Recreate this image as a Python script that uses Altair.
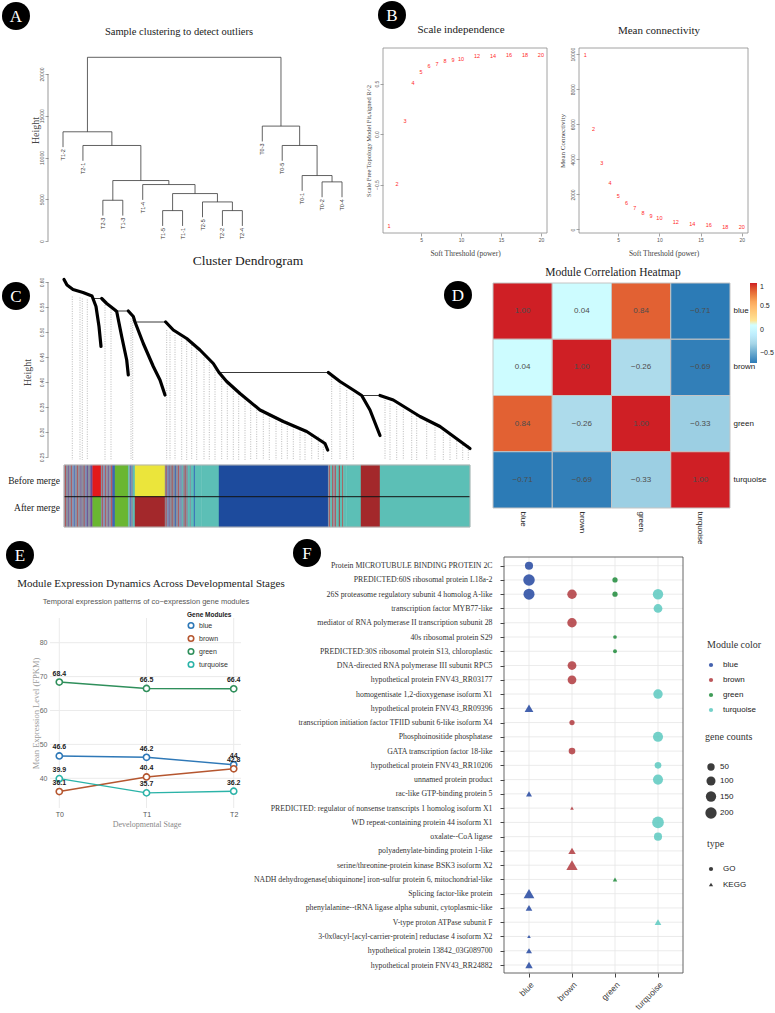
import altair as alt
import pandas as pd

SERIF = "Liberation Serif"
SANS = "Liberation Sans"
W, H = 775, 1013

# ---------------- Panel A : sample clustering (hclust merge table) ----------------
merge_left = ["T2-2", "T1-5", "T2-5", "T2-3", 1, "T1-4", "T0-2", 3, "T0-1", "T2-1", "T0-5", "T1-2", "T0-3", 11]
merge_right = ["T2-4", "T1-1", 0, "T1-3", 2, 4, "T0-4", 5, 6, 7, 8, 9, 10, 12]
merge_height = [3640, 3640, 4680, 4880, 5680, 6760, 7080, 7240, 7840, 11440, 11440, 13080, 13760, 22000]
height_ticks = [0, 5000, 10000, 15000, 20000]

# ---------------- Panel B : soft threshold ----------------
powers = [1, 2, 3, 4, 5, 6, 7, 8, 9, 10, 12, 14, 16, 18, 20]
fit_r2 = [-0.91, -0.49, 0.13, 0.51, 0.62, 0.67, 0.69, 0.72, 0.73, 0.745, 0.77, 0.77, 0.78, 0.78, 0.785]
mean_conn = [9960, 5740, 3770, 2650, 1930, 1520, 1210, 950, 780, 640, 450, 320, 230, 170, 130]

# ---------------- Panel C : gene dendrogram ----------------
branch_x = [
    [0, 3, 9, 19, 28, 32, 35, 37],
    [37.7, 42.7, 51, 52.7, 57.7, 62.7, 64.3],
    [64.3, 69.3, 71, 79.3, 89.3, 96, 101],
    [101.7, 109.3, 122.7, 136, 149.3, 155, 162.7, 176, 196, 219.3, 242.7, 261, 263.7],
    [264.3, 276, 289.3, 297.7, 306, 316],
    [316, 329.3, 356, 376, 406],
]
branch_h = [
    [0.605, 0.594, 0.585, 0.579, 0.572, 0.551, 0.511, 0.471],
    [0.567, 0.557, 0.544, 0.541, 0.491, 0.444, 0.414],
    [0.542, 0.531, 0.520, 0.477, 0.431, 0.404, 0.374],
    [0.520, 0.504, 0.487, 0.464, 0.437, 0.419, 0.401, 0.377, 0.344, 0.321, 0.301, 0.277, 0.264],
    [0.419, 0.401, 0.384, 0.373, 0.344, 0.293],
    [0.373, 0.364, 0.331, 0.311, 0.267],
]
join_x0 = [29.3, 52.7, 71, 155, 297.7]
join_x1 = [37.7, 64.3, 101.7, 264.3, 316]
join_h = [0.567, 0.542, 0.520, 0.419, 0.373]
leaf_x = [8.3, 16, 18.3, 23.3, 41, 47, 67, 68.7, 102.7, 106, 111, 117.7, 122.7, 127.7, 132.7, 140,
          145.3, 151, 157.7, 163.3, 169.3, 174.7, 181, 186.7, 192.7, 199.3, 205.3, 212, 217.7, 223.3,
          229.3, 236, 241, 247.7, 254.3, 259.3, 267.7, 276, 282.7, 289.3, 321, 326, 332.7, 339.3,
          347.7, 352.7, 362.7, 371, 379.3, 386, 392.7, 398.7, 404.3]
leaf_top = [0.571, 0.569, 0.567, 0.565, 0.554, 0.545, 0.527, 0.524, 0.504, 0.499, 0.494, 0.487, 0.481,
            0.474, 0.467, 0.454, 0.444, 0.434, 0.411, 0.401, 0.391, 0.381, 0.371, 0.363, 0.354, 0.345,
            0.337, 0.331, 0.325, 0.321, 0.315, 0.309, 0.304, 0.297, 0.291, 0.285, 0.411, 0.397, 0.384,
            0.377, 0.364, 0.357, 0.351, 0.345, 0.337, 0.332, 0.321, 0.314, 0.304, 0.294, 0.287, 0.279,
            0.274]
G, R, P, L, B2, T = "#8C90A0", "#B23A3A", "#6A4C93", "#7F93B5", "#3A66B8", "#5CBFB6"
BL, BR, GR, Y, RD = "#1D4B9D", "#A3282B", "#6AB631", "#EBE53B", "#E31A1C"
cb_x0 = [0, 1.2, 2.0, 4.5, 5.3, 7.5, 8.2, 10.5, 11.3, 13.5, 14.2, 16.8, 17.6, 20, 20.8, 23, 24, 26.5,
         28.7, 37, 38.5, 39.2, 41.5, 42.2, 44.5, 45.3, 47.5, 48.5, 51, 64.3, 65.5, 66.5, 67.5, 69, 71,
         101, 102, 102.8, 105, 105.8, 108, 108.8, 111, 112, 114.5, 115.3, 118, 119, 121, 121.8, 124,
         126, 127, 130, 131, 137.7, 155, 264.3, 265.5, 266.3, 268.5, 269.3, 271.5, 272.3, 275, 276,
         278.5, 279.3, 282.7, 297, 316]
cb_x1 = cb_x0[1:] + [406]
cb_before = [G, R, G, P, G, R, L, B2, G, R, G, P, G, R, L, P, G, P,
             RD, G, R, L, R, G, P, G, R, B2, GR, T, G, B2, G, T, Y,
             G, R, L, P, G, R, G, B2, G, R, L, T, G, R, G, T,
             G, T, B2, T, T, BL, G, R, T, R, G, R, T, R, T,
             R, T, T, BR, T]
cb_after = [G, R, G, P, G, R, L, B2, G, R, G, P, G, R, L, P, G, P,
            GR, G, R, L, R, G, P, G, R, B2, GR, T, G, B2, G, T, BR,
            G, R, L, P, G, R, G, B2, G, R, L, T, G, R, G, T,
            G, T, B2, T, T, BL, G, R, T, R, G, R, T, R, T,
            R, T, T, BR, T]
dend_ticks = [0.25, 0.30, 0.35, 0.40, 0.45, 0.50, 0.55, 0.60]

# ---------------- Panel D : module correlation ----------------
modules = ["blue", "brown", "green", "turquoise"]
corr = [[1.00, 0.04, 0.84, -0.71],
        [0.04, 1.00, -0.26, -0.69],
        [0.84, -0.26, 1.00, -0.33],
        [-0.71, -0.69, -0.33, 1.00]]
heat_palette = ["#2C7BB6", "#ABD9E9", "#FFFFFF", "#FDAE61", "#CF1F25"]

# ---------------- Panel E : expression dynamics ----------------
stages = ["T0", "T1", "T2"]
expr_blue = [46.6, 46.2, 44]
expr_brown = [36.1, 40.4, 42.8]
expr_green = [68.4, 66.5, 66.4]
expr_turquoise = [39.9, 35.7, 36.2]
expr_colors = ["#2E78B7", "#B5562F", "#2F8F5B", "#2BB3A8"]
expr_ticks = [40, 50, 60, 70, 80]

# ---------------- Panel F : enrichment dot plot ----------------
f_protein = [
    "Protein MICROTUBULE BINDING PROTEIN 2C",
    "PREDICTED:60S ribosomal protein L18a-2",
    "26S proteasome regulatory subunit 4 homolog A-like",
    "transcription factor MYB77-like",
    "mediator of RNA polymerase II transcription subunit 28",
    "40s ribosomal protein S29",
    "PREDICTED:30S ribosomal protein S13, chloroplastic",
    "DNA-directed RNA polymerase III subunit RPC5",
    "hypothetical protein FNV43_RR03177",
    "homogentisate 1,2-dioxygenase isoform X1",
    "hypothetical protein FNV43_RR09396",
    "transcription initiation factor TFIID subunit 6-like isoform X4",
    "Phosphoinositide phosphatase",
    "GATA transcription factor 18-like",
    "hypothetical protein FNV43_RR10206",
    "unnamed protein product",
    "rac-like GTP-binding protein 5",
    "PREDICTED: regulator of nonsense transcripts 1 homolog isoform X1",
    "WD repeat-containing protein 44 isoform X1",
    "oxalate--CoA ligase",
    "polyadenylate-binding protein 1-like",
    "serine/threonine-protein kinase BSK3 isoform X2",
    "NADH dehydrogenase[ubiquinone] iron-sulfur protein 6, mitochondrial-like",
    "Splicing factor-like protein",
    "phenylalanine--tRNA ligase alpha subunit, cytoplasmic-like",
    "V-type proton ATPase subunit F",
    "3-0x0acyl-[acyl-carrier-protein] reductase 4 isoform X2",
    "hypothetical protein 13842_03G089700",
    "hypothetical protein FNV43_RR24882",
]
f_row = [1, 2, 2, 3, 3, 3, 3, 4, 5, 6, 7, 8, 9, 10, 11, 12, 13, 14, 15, 16, 17, 18, 19, 20, 21, 22,
         23, 24, 25, 26, 27, 28, 29]
f_module = ["blue", "blue", "green", "blue", "brown", "green", "turquoise", "turquoise", "brown", "green",
            "green", "brown", "brown", "turquoise", "blue", "brown", "turquoise", "brown", "turquoise",
            "turquoise", "blue", "brown", "turquoise", "turquoise", "brown", "brown", "green", "blue",
            "blue", "turquoise", "blue", "blue", "blue"]
f_type = ["GO"] * 14 + ["KEGG"] + ["GO"] * 5 + ["KEGG", "KEGG"] + ["GO", "GO"] + ["KEGG"] * 9
f_count = [70, 210, 13, 185, 114, 13, 153, 90, 114, 1, 2, 90, 90, 114, 90, 13, 140, 35, 35, 140, 23, 1,
           220, 69, 51, 200, 6, 170, 35, 35, 1, 23, 51]
f_colors = ["#2346A0", "#B0393E", "#1F8B3B", "#5CC9C0"]
size_legend_values = [50, 100, 150, 200]

# =====================================================================
one = pd.DataFrame({"k": [0]})


def badge(letter, px, py):
    base = alt.Chart(one)
    dot = base.mark_circle(size=784, color="black", opacity=1).encode(x=alt.value(px), y=alt.value(py))
    txt = base.mark_text(text=letter, font=SERIF, fontSize=17, color="white", align="center",
                         baseline="middle", dy=1).encode(x=alt.value(px), y=alt.value(py))
    return [dot, txt]


def label(text, px, py, size, font=SERIF, color="#222", weight="normal", align="center"):
    return alt.Chart(one).mark_text(text=text, font=font, fontSize=size, color=color, fontWeight=weight,
                                    align=align, baseline="middle").encode(x=alt.value(px), y=alt.value(py))


def frame(x0, x1, y0, y1, color, width):
    return alt.Chart(one).mark_rect(filled=False, stroke=color, strokeWidth=width).encode(
        x=alt.value(x0), x2=alt.value(x1), y=alt.value(y0), y2=alt.value(y1))


def r_axis(orient, pos, values, title, fmt, size_title, tx=None, ty=None, rotate=False):
    """R base-graphics style axis placed at absolute pixel position `pos`."""
    offset = (pos - H) if orient == "bottom" else -pos
    kw = dict(orient=orient, offset=offset, values=values, tickSize=3, tickColor="#666", tickWidth=0.6,
              labelFontSize=5, labelColor="#555", labelFont=SANS, labelPadding=1, domain=False, grid=False,
              format=fmt, title=title, titleFont=SERIF, titleFontSize=size_title, titleFontWeight="normal",
              titleColor="#444", titleBaseline="middle")
    if rotate:
        kw.update(labelAngle=270, labelAlign="center", labelBaseline="bottom")
    if tx is not None:
        kw["titleX"] = tx
    if ty is not None:
        kw["titleY"] = ty
    return alt.Axis(**kw)


def lin(domain, rng):
    return alt.Scale(domain=domain, range=rng, nice=False, zero=False)


# ---------------- A ----------------
def leaves(node):
    if isinstance(node, str):
        return [node]
    return leaves(merge_left[node]) + leaves(merge_right[node])


order = leaves(len(merge_height) - 1)
xpos = {n: i for i, n in enumerate(order)}
hang = 0.1 * (max(merge_height) - min(merge_height))
segs, leaf_rows, node_x = [], [], {}
for k, h in enumerate(merge_height):
    xs = []
    for child in (merge_left[k], merge_right[k]):
        if isinstance(child, str):
            cx, bottom = xpos[child], h - hang
            leaf_rows.append({"name": child, "x": cx, "y": bottom})
        else:
            cx, bottom = node_x[child], merge_height[child]
        segs.append({"x": cx, "x2": cx, "y": bottom, "y2": h})
        xs.append(cx)
    segs.append({"x": xs[0], "x2": xs[1], "y": h, "y2": h})
    node_x[k] = (xs[0] + xs[1]) / 2

xsA = lin([0, len(order) - 1], [63, 342])
ysA = lin([0, 20000], [241, 74])
segA = alt.Chart(pd.DataFrame(segs)).mark_rule(color="#3a3a3a", strokeWidth=0.8).encode(
    x=alt.X("x:Q", scale=xsA, axis=None), x2="x2:Q",
    y=alt.Y("y:Q", scale=ysA, axis=r_axis("left", 48, height_ticks, "Height", "d", 10, -13, 130, True)),
    y2="y2:Q")
axA = alt.Chart(one).mark_rule(color="#555", strokeWidth=0.6).encode(
    x=alt.value(48), y=alt.datum(height_ticks[0]), y2=alt.datum(height_ticks[-1]))
leafA = alt.Chart(pd.DataFrame(leaf_rows)).mark_text(angle=270, align="right", baseline="middle", dx=-2,
                                                     fontSize=5.5, font=SANS, color="#333").encode(
    x=alt.X("x:Q", scale=xsA, axis=None), y=alt.Y("y:Q", scale=ysA), text="name:N")
panelA = alt.layer(segA, axA, leafA)

# ---------------- B ----------------
dfB = pd.DataFrame({"power": powers, "r2": fit_r2, "k": mean_conn, "lab": [str(p) for p in powers]})
B1pts = alt.Chart(dfB).mark_text(color="#FF2A2A", fontSize=5.5, font=SANS).encode(
    x=alt.X("power:Q", scale=lin([0.24, 20.76], [383, 547]),
            axis=r_axis("bottom", 233, [5, 10, 15, 20], "Soft Threshold (power)", "d", 7.5, None, 20)),
    y=alt.Y("r2:Q", scale=lin([-0.98, 0.853], [233, 48]),
            axis=r_axis("left", 383, [-0.5, 0, 0.5], "Scale Free Topology Model Fit,signed R^2", ".1f", 6.5,
                        -15, None, True)),
    text="lab:N")
B2pts = alt.Chart(dfB).mark_text(color="#FF2A2A", fontSize=5.5, font=SANS).encode(
    x=alt.X("power:Q", scale=lin([0.24, 20.76], [579, 748]),
            axis=r_axis("bottom", 233, [5, 10, 15, 20], "Soft Threshold (power)", "d", 7.5, None, 20)),
    y=alt.Y("k:Q", scale=lin([-200, 10350], [233, 48]),
            axis=r_axis("left", 579, [0, 2000, 4000, 6000, 8000, 10000], "Mean Connectivity", "d", 7,
                        -17, None, True)),
    text="lab:N")

# ---------------- C ----------------
xC = lin([0, 406], [64, 470])
yC = lin([0.25, 0.60], [457, 282])
CB_TOP, CB_MID, CB_BOT, LEAF_BASE = 0.234, 0.1706, 0.11, 0.244
dfLeaf = pd.DataFrame({"x": leaf_x, "top": leaf_top})
dots = alt.Chart(dfLeaf).mark_rule(strokeDash=[1, 1.4], color="#8c8c8c", strokeWidth=0.6).encode(
    x=alt.X("x:Q", scale=xC, axis=None),
    y=alt.Y("top:Q", scale=yC, axis=r_axis("left", 48, dend_ticks, "Height", ".2f", 10, -21, 372, True)),
    y2=alt.datum(LEAF_BASE))
dfJoin = pd.DataFrame({"x0": join_x0, "x1": join_x1, "h": join_h})
joins = alt.Chart(dfJoin).mark_rule(color="#222", strokeWidth=0.9).encode(
    x=alt.X("x0:Q", scale=xC, axis=None), x2="x1:Q", y=alt.Y("h:Q", scale=yC))
br_rows = []
for b, (xs_, hs_) in enumerate(zip(branch_x, branch_h)):
    for i, (xv, hv) in enumerate(zip(xs_, hs_)):
        br_rows.append({"b": b, "i": i, "x": xv, "h": hv})
branches = alt.Chart(pd.DataFrame(br_rows)).mark_line(color="black", strokeWidth=3.2, strokeCap="round",
                                                       strokeJoin="round").encode(
    x=alt.X("x:Q", scale=xC, axis=None), y=alt.Y("h:Q", scale=yC), detail="b:N", order="i:Q")
dfCB = pd.DataFrame({"x0": cb_x0, "x1": cb_x1, "before": cb_before, "after": cb_after})
cb1 = alt.Chart(dfCB).mark_rect(strokeWidth=0.4).encode(
    x=alt.X("x0:Q", scale=xC, axis=None), x2="x1:Q", y=alt.datum(CB_TOP), y2=alt.datum(CB_MID),
    fill=alt.Fill("before:N", scale=None), stroke=alt.Stroke("before:N", scale=None))
cb2 = alt.Chart(dfCB).mark_rect(strokeWidth=0.4).encode(
    x=alt.X("x0:Q", scale=xC, axis=None), x2="x1:Q", y=alt.datum(CB_MID), y2=alt.datum(CB_BOT),
    fill=alt.Fill("after:N", scale=None), stroke=alt.Stroke("after:N", scale=None))
cbline = alt.Chart(one).mark_rule(color="#111", strokeWidth=1).encode(
    x=alt.datum(cb_x0[0]), x2=alt.datum(cb_x1[-1]), y=alt.datum(CB_MID))
cbframe = alt.Chart(one).mark_rect(filled=False, stroke="#b5b5b5", strokeWidth=1).encode(
    x=alt.datum(cb_x0[0]), x2=alt.datum(cb_x1[-1]), y=alt.datum(CB_TOP), y2=alt.datum(CB_BOT))
axCline = alt.Chart(one).mark_rule(color="#555", strokeWidth=0.6).encode(
    x=alt.value(48), y=alt.datum(dend_ticks[0]), y2=alt.datum(dend_ticks[-1]))
panelC = alt.layer(dots, joins, branches, cb1, cb2, cbline, cbframe, axCline)

# ---------------- D ----------------
dfD = pd.DataFrame([{"row": modules[i], "col": modules[j], "v": corr[i][j]}
                    for i in range(4) for j in range(4)])
vmin, vmax = dfD["v"].min(), dfD["v"].max()
heat_dom = [vmin + f * (vmax - vmin) for f in (0, 0.25, 0.5, 0.75, 1)]
xD = alt.X("col:N", sort=modules, scale=alt.Scale(range=[493, 730], paddingInner=0, paddingOuter=0),
           axis=alt.Axis(orient="bottom", offset=508 - H, labelAngle=90, labelAlign="left",
                         labelBaseline="middle", ticks=False, domain=False, labelPadding=3, labelFontSize=8,
                         labelFont=SANS, labelColor="#222", title=None))
yD = alt.Y("row:N", sort=modules, scale=alt.Scale(range=[283, 508], paddingInner=0, paddingOuter=0),
           axis=alt.Axis(orient="right", offset=730 - W, ticks=False, domain=False, labelPadding=3,
                         labelFontSize=8, labelFont=SANS, labelColor="#222", title=None))
heat = alt.Chart(dfD).mark_rect(stroke="#C4C4C4", strokeWidth=1).encode(
    x=xD, y=yD,
    color=alt.Color("v:Q", scale=alt.Scale(domain=heat_dom, range=heat_palette),
                    legend=alt.Legend(orient="none", legendX=750, legendY=283, direction="vertical",
                                      gradientLength=80, gradientThickness=7, title=None,
                                      values=[1, 0.5, 0, -0.5], format="~g", labelFontSize=7,
                                      labelFont=SANS, labelColor="#222", gradientStrokeWidth=0,
                                      labelOffset=3)))
heat_txt = alt.Chart(dfD).mark_text(fontSize=8, font=SANS, color="#4D4D4D").encode(
    x=xD, y=yD, text=alt.Text("v:Q", format=".2f"))
panelD = alt.layer(heat, heat_txt)

# ---------------- E ----------------
rowsE = []
for m, vals in zip(modules, [expr_blue, expr_brown, expr_green, expr_turquoise]):
    for s, v in zip(stages, vals):
        rowsE.append({"stage": s, "module": m, "value": v, "lab": f"{v:g}"})
dfE = pd.DataFrame(rowsE)
xE = alt.X("stage:N", sort=stages, scale=alt.Scale(type="point", range=[59.3, 233.7], padding=0),
           axis=alt.Axis(orient="bottom", offset=808 - H, ticks=False, domain=False, labelAngle=0,
                         labelPadding=2, labelFontSize=7, labelFont=SANS, labelColor="#555",
                         title="Developmental Stage", titleFont=SERIF, titleFontSize=8,
                         titleFontWeight="normal", titleColor="#888", titlePadding=3, grid=False))
yE = alt.Y("value:Q", scale=lin([40, 80], [778.3, 642.7]),
           axis=alt.Axis(orient="left", offset=-50, values=expr_ticks, grid=False, ticks=False,
                         domain=False, labelPadding=3, labelFontSize=7, labelFont=SANS, labelColor="#666",
                         title="Mean Expression Level (FPKM)", titleFont=SERIF, titleFontSize=8.5,
                         titleFontWeight="normal", titleColor="#999", titleX=-15, titleY=713,
                         titleBaseline="middle"))
legE = alt.Legend(orient="none", legendX=187, legendY=612, title="Gene Modules", titleFont=SANS,
                  titleFontSize=6.5, titleFontWeight="bold", titleColor="#222", titlePadding=3,
                  labelFont=SANS, labelFontSize=7, labelColor="#333", symbolType="circle", symbolSize=30,
                  symbolStrokeWidth=1.6, symbolFillColor="white", rowPadding=1, labelOffset=4)
strokeE = alt.Stroke("module:N", sort=modules, scale=alt.Scale(domain=modules, range=expr_colors), legend=legE)
hgridE = alt.Chart(pd.DataFrame({"v": expr_ticks})).mark_rule(color="#EBEBEB", strokeWidth=1).encode(
    y=alt.Y("v:Q", scale=lin([40, 80], [778.3, 642.7])), x=alt.value(50), x2=alt.value(241))
vgridE = alt.Chart(pd.DataFrame({"stage": stages})).mark_rule(color="#EBEBEB", strokeWidth=1).encode(
    x=xE, y=alt.value(618), y2=alt.value(808))
lineE = alt.Chart(dfE).mark_line(strokeWidth=1.4).encode(x=xE, y=yE, stroke=strokeE)
ptE = alt.Chart(dfE).mark_point(filled=True, fill="white", size=38, strokeWidth=1.6, opacity=1).encode(
    x=xE, y=yE, stroke=strokeE)
txtE = alt.Chart(dfE).mark_text(dy=-8.5, fontSize=7, fontWeight="bold", color="#1a1a1a", font=SANS).encode(
    x=xE, y=yE, text="lab:N")
panelE = alt.layer(hgridE, vgridE, lineE, ptE, txtE)

# ---------------- F ----------------
dfF = pd.DataFrame({"protein": [f_protein[r - 1] for r in f_row], "module": f_module, "type": f_type,
                    "count": f_count})
xF = alt.X("module:N", sort=modules, scale=alt.Scale(type="point", range=[529, 658], padding=0),
           axis=alt.Axis(orient="bottom", offset=973 - H, labelAngle=-45, labelAlign="right",
                         labelBaseline="top", labelPadding=3, tickSize=4, tickColor="#444", labelFontSize=8.5,
                         labelFont=SANS, labelColor="#444", domain=False, grid=False, title=None))
yF = alt.Y("protein:N", sort=f_protein, scale=alt.Scale(type="point", range=[565.7, 965], padding=0),
           axis=alt.Axis(orient="left", offset=-504, labelFont=SERIF, labelFontSize=7.8, labelColor="#333",
                         tickSize=4, tickColor="#444", labelPadding=8, domain=False, grid=False,
                         labelLimit=400, title=None))
vgridF = alt.Chart(pd.DataFrame({"module": modules})).mark_rule(color="#E6E6E6", strokeWidth=0.8).encode(
    x=xF, y=alt.value(557), y2=alt.value(973))
hgridF = alt.Chart(pd.DataFrame({"protein": f_protein})).mark_rule(color="#E6E6E6", strokeWidth=0.8).encode(
    y=yF, x=alt.value(504), x2=alt.value(683))
ptF = alt.Chart(dfF).mark_point(filled=True, opacity=0.85).encode(
    x=xF, y=yF,
    color=alt.Color("module:N", sort=modules, scale=alt.Scale(domain=modules, range=f_colors),
                    legend=alt.Legend(orient="none", legendX=707, legendY=640, title="Module color",
                                      titleFont=SERIF, titleFontSize=10, titleFontWeight="normal",
                                      titleColor="#333", titlePadding=11, labelFont=SANS, labelFontSize=8,
                                      labelColor="#222", symbolSize=18, symbolType="circle",
                                      symbolStrokeWidth=0, rowPadding=7, labelOffset=8)),
    size=alt.Size("count:Q", scale=alt.Scale(type="pow", exponent=0.72, domain=[0, 200], range=[11, 128]),
                  legend=alt.Legend(orient="none", legendX=705, legendY=732, title="gene counts",
                                    values=size_legend_values, titleFont=SERIF, titleFontSize=10,
                                    titleFontWeight="normal", titleColor="#333", titlePadding=21,
                                    labelFont=SANS, labelFontSize=8, labelColor="#222",
                                    symbolFillColor="#1a1a1a", symbolStrokeWidth=0, symbolType="circle",
                                    rowPadding=5, labelOffset=3)),
    shape=alt.Shape("type:N", scale=alt.Scale(domain=["GO", "KEGG"], range=["circle", "triangle-up"]),
                    legend=alt.Legend(orient="none", legendX=707, legendY=839, title="type",
                                      titleFont=SERIF, titleFontSize=10, titleFontWeight="normal",
                                      titleColor="#333", titlePadding=16, labelFont=SANS, labelFontSize=8,
                                      labelColor="#222", symbolFillColor="#1a1a1a", symbolStrokeWidth=0,
                                      symbolSize=18, rowPadding=7.5, labelOffset=8)))
panelF = alt.layer(vgridF, hgridF, ptF)

# ---------------- annotations ----------------
notes = [
    label("Sample clustering to detect outliers", 179, 32, 10.5),
    label("Scale independence", 461, 30, 11),
    label("Mean connectivity", 659, 31, 11),
    frame(383, 547, 48, 233, "#8a8a8a", 0.8),
    frame(579, 748, 48, 233, "#8a8a8a", 0.8),
    label("Cluster Dendrogram", 248, 261, 13.5),
    label("Before merge", 60, 481, 9.5, align="right"),
    label("After merge", 60, 508, 9.5, align="right"),
    label("Module Correlation Heatmap", 613, 273, 11.5),
    label("Module Expression Dynamics Across Developmental Stages", 151, 584, 11),
    label("Temporal expression patterns of co\u2212expression gene modules", 146, 602, 7.5,
          font=SANS, color="#555"),
    frame(504, 683, 557, 973, "#555", 0.9),
]
for letter, bx, by in [("A", 16, 16), ("B", 392, 15), ("C", 16, 296), ("D", 458, 295), ("E", 20, 555),
                       ("F", 307, 553)]:
    notes += badge(letter, bx, by)

indep = dict(x="independent", y="independent", color="independent", size="independent",
             shape="independent", fill="independent", stroke="independent")
chart = alt.layer(panelA, B1pts, B2pts, panelC, panelD, panelE, panelF, *notes).resolve_scale(
    **indep).properties(width=W, height=H, autosize=alt.AutoSizeParams(type="none"), padding=0)
chart = chart.configure(font=SANS).configure_view(stroke=None).configure_axis(grid=False)

chart.save("out.html", embed_options={"renderer": "svg", "actions": False})
